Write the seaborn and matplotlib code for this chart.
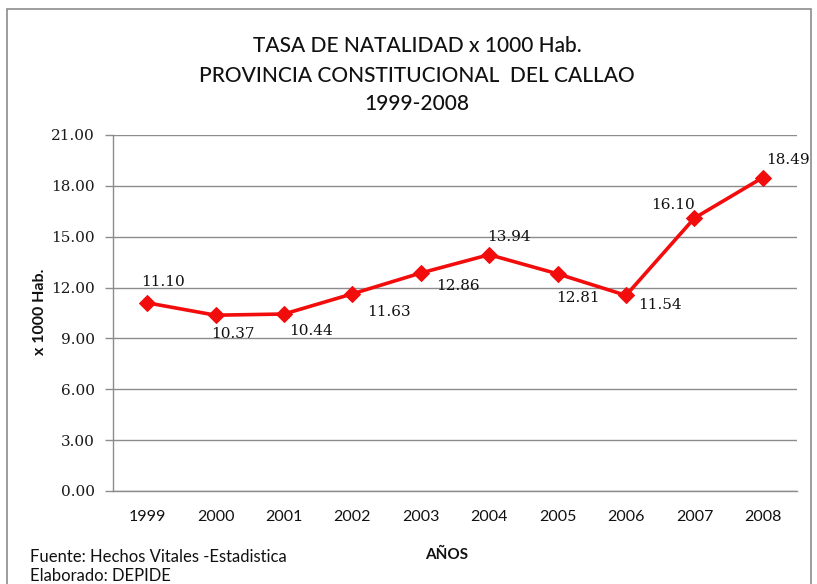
import matplotlib
matplotlib.use("Agg")
import matplotlib.pyplot as plt
import seaborn as sns
import pandas as pd
from matplotlib.patches import Rectangle

years = ["1999", "2000", "2001", "2002", "2003", "2004", "2005", "2006", "2007", "2008"]
rates = [11.10, 10.37, 10.44, 11.63, 12.86, 13.94, 12.81, 11.54, 16.10, 18.49]
yticks = [0, 3, 6, 9, 12, 15, 18, 21]
title_lines = ["TASA DE NATALIDAD x 1000 Hab.",
               "PROVINCIA CONSTITUCIONAL  DEL CALLAO",
               "1999-2008"]
# label offsets in pixels (dx, dy) relative to each point
label_offsets = [(16, 21), (17, -19), (27, -17), (37, -18), (37, -13),
                 (20, 18), (20, -24), (34, -10), (-21, 13), (25, 18)]

sns.set_theme(style="white")
SANS = ["Lato", "DejaVu Sans"]
SERIF = ["DejaVu Serif"]

df = pd.DataFrame({"year": years, "rate": rates})

fig = plt.figure(figsize=(8.17, 5.84), dpi=100)
fig.patch.set_facecolor("white")
ax = fig.add_axes([113 / 817, 1 - 491 / 584, (797 - 113) / 817, (491 - 135) / 584])

sns.lineplot(data=df, x="year", y="rate", ax=ax, color="#f20c0c", linewidth=2.6,
             marker="D", markersize=8.5, markeredgecolor="#f20c0c", sort=False)

ax.set_xlim(-0.5, len(years) - 0.5)
ax.set_ylim(0, 21)
ax.set_yticks(yticks)
ax.set_yticklabels([f"{v:.2f}" for v in yticks], fontfamily=SERIF, fontsize=11, color="#1a1a1a")
ax.set_xticks(range(len(years)))
ax.set_xticklabels(years, fontfamily=SANS, fontsize=11.5, color="#111111")
ax.yaxis.grid(True, color="#8c8c8c", linewidth=1)
ax.xaxis.grid(False)
for s in ["top", "right"]:
    ax.spines[s].set_visible(False)
for s in ["left", "bottom"]:
    ax.spines[s].set_color("#8c8c8c")
    ax.spines[s].set_linewidth(1)
ax.tick_params(axis="y", which="major", direction="out", length=6, width=1, color="#8c8c8c", pad=7, left=True)
ax.tick_params(axis="x", length=0, pad=14)
ax.set_xlabel("")
ax.set_ylabel("")

for i, (v, (dx, dy)) in enumerate(zip(rates, label_offsets)):
    ax.annotate(f"{v:.2f}", (i, v), xytext=(dx, dy), textcoords="offset pixels",
                ha="center", va="center", fontfamily=SERIF, fontsize=11, color="#111111")

ys = [46, 76, 104]
for t, y in zip(title_lines, ys):
    fig.text(417 / 817, 1 - y / 584, t, ha="center", va="center", fontfamily=SANS,
             fontsize=15, fontweight="medium", color="#111111")

fig.text(40 / 817, 1 - 312 / 584, "x 1000 Hab.", rotation=90, ha="center", va="center",
         fontfamily=SANS, fontsize=11.5, fontweight="bold", color="#111111")
fig.text(447 / 817, 1 - 555 / 584, "AÑOS", ha="center", va="center",
         fontfamily=SANS, fontsize=11, fontweight="bold", color="#111111")
fig.text(30 / 817, 1 - 557 / 584, "Fuente: Hechos Vitales -Estadistica", ha="left", va="center",
         fontfamily=SANS, fontsize=12, color="#111111")
fig.text(30 / 817, 1 - 576 / 584, "Elaborado: DEPIDE", ha="left", va="center",
         fontfamily=SANS, fontsize=12, color="#111111")

fig.patches.append(Rectangle((7 / 817, -0.05), (811 - 7) / 817, 1.05 - 9 / 584,
                             transform=fig.transFigure, fill=False, edgecolor="#8c8c8c",
                             linewidth=1.2, figure=fig))

fig.savefig("out.png", dpi=100)
